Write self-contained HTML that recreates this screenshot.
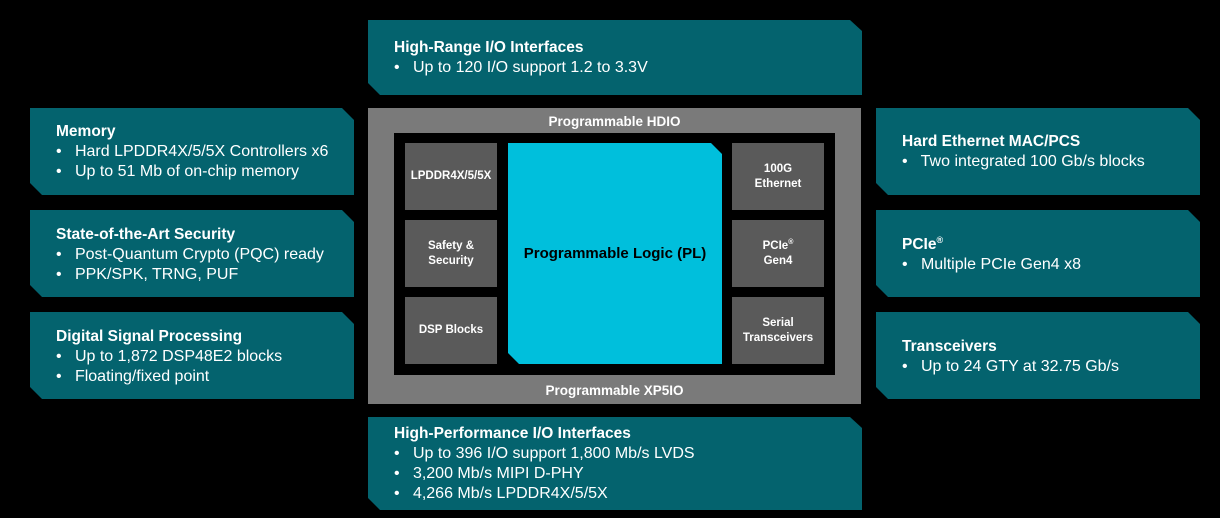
<!DOCTYPE html>
<html><head><style>
body{margin:0;width:1220px;height:518px;background:#000;position:relative;overflow:hidden;font-family:"Liberation Sans",Arial,sans-serif;}
svg{position:absolute;left:0;top:0}
.t{position:absolute;color:#fff;font-size:16px;line-height:20px;white-space:nowrap}
.t b{font-weight:bold;font-size:15.5px}
.c{position:absolute;color:#fff;font-weight:bold;font-size:11.5px;line-height:15px;text-align:center;display:flex;align-items:center;justify-content:center}
</style></head><body>
<svg width="1220" height="518">
<g fill="#04636e">
<polygon points="368,20 850,20 862,31 862,95 380,95 368,83"/>
<polygon points="368,417 850,417 862,428 862,510 380,510 368,498"/>
<polygon points="30,108 342,108 354,120 354,195 42,195 30,183"/>
<polygon points="30,210 342,210 354,222 354,297 42,297 30,285"/>
<polygon points="30,312 342,312 354,324 354,399 42,399 30,387"/>
<polygon points="876,108 1188,108 1200,120 1200,195 888,195 876,183"/>
<polygon points="876,210 1188,210 1200,222 1200,297 888,297 876,285"/>
<polygon points="876,312 1188,312 1200,324 1200,399 888,399 876,387"/>
</g>
<rect x="368" y="108" width="493" height="296" fill="#7a7a7a"/>
<rect x="394" y="133" width="441" height="242" fill="#000"/>
<g fill="#5a5a5a">
<rect x="405" y="143" width="92" height="67"/><rect x="405" y="220" width="92" height="67"/><rect x="405" y="297" width="92" height="67"/>
<rect x="732" y="143" width="92" height="67"/><rect x="732" y="220" width="92" height="67"/><rect x="732" y="297" width="92" height="67"/>
</g>
<polygon points="508,143 711,143 722,154 722,364 519,364 508,353" fill="#00bfdc"/>
</svg>
<div class="c" style="left:368px;top:111px;width:493px;height:20px;font-size:13.5px">Programmable HDIO</div>
<div class="c" style="left:368px;top:380px;width:493px;height:20px;font-size:13.5px">Programmable XP5IO</div>
<div class="c" style="left:405px;top:143px;width:92px;height:67px"><span>LPDDR4X/5/5X</span></div>
<div class="c" style="left:405px;top:220px;width:92px;height:67px"><span>Safety &amp;<br>Security</span></div>
<div class="c" style="left:405px;top:297px;width:92px;height:67px"><span>DSP Blocks</span></div>
<div class="c" style="left:732px;top:143px;width:92px;height:67px"><span>100G<br>Ethernet</span></div>
<div class="c" style="left:732px;top:220px;width:92px;height:67px"><span>PCIe<sup style="font-size:7px;line-height:0">®</sup><br>Gen4</span></div>
<div class="c" style="left:732px;top:297px;width:92px;height:67px"><span>Serial<br>Transceivers</span></div>
<div class="c" style="left:508px;top:143px;width:214px;height:221px;color:#000;font-size:15px">Programmable Logic (PL)</div>

<div class="t" style="left:394px;top:38px"><b>High-Range I/O Interfaces</b><br>•&nbsp;&nbsp; Up to 120 I/O support 1.2 to 3.3V</div>
<div class="t" style="left:394px;top:424px"><b>High-Performance I/O Interfaces</b><br>•&nbsp;&nbsp; Up to 396 I/O support 1,800 Mb/s LVDS<br>•&nbsp;&nbsp; 3,200 Mb/s MIPI D-PHY<br>•&nbsp;&nbsp; 4,266 Mb/s LPDDR4X/5/5X</div>
<div class="t" style="left:56px;top:122px"><b>Memory</b><br>•&nbsp;&nbsp; Hard LPDDR4X/5/5X Controllers x6<br>•&nbsp;&nbsp; Up to 51 Mb of on-chip memory</div>
<div class="t" style="left:56px;top:225px"><b>State-of-the-Art Security</b><br>•&nbsp;&nbsp; Post-Quantum Crypto (PQC) ready<br>•&nbsp;&nbsp; PPK/SPK, TRNG, PUF</div>
<div class="t" style="left:56px;top:327px"><b>Digital Signal Processing</b><br>•&nbsp;&nbsp; Up to 1,872 DSP48E2 blocks<br>•&nbsp;&nbsp; Floating/fixed point</div>
<div class="t" style="left:902px;top:132px"><b>Hard Ethernet MAC/PCS</b><br>•&nbsp;&nbsp; Two integrated 100 Gb/s blocks</div>
<div class="t" style="left:902px;top:235px"><b>PCIe<sup style="font-size:9px;line-height:0">®</sup></b><br>•&nbsp;&nbsp; Multiple PCIe Gen4 x8</div>
<div class="t" style="left:902px;top:337px"><b>Transceivers</b><br>•&nbsp;&nbsp; Up to 24 GTY at 32.75 Gb/s</div>
</body></html>
